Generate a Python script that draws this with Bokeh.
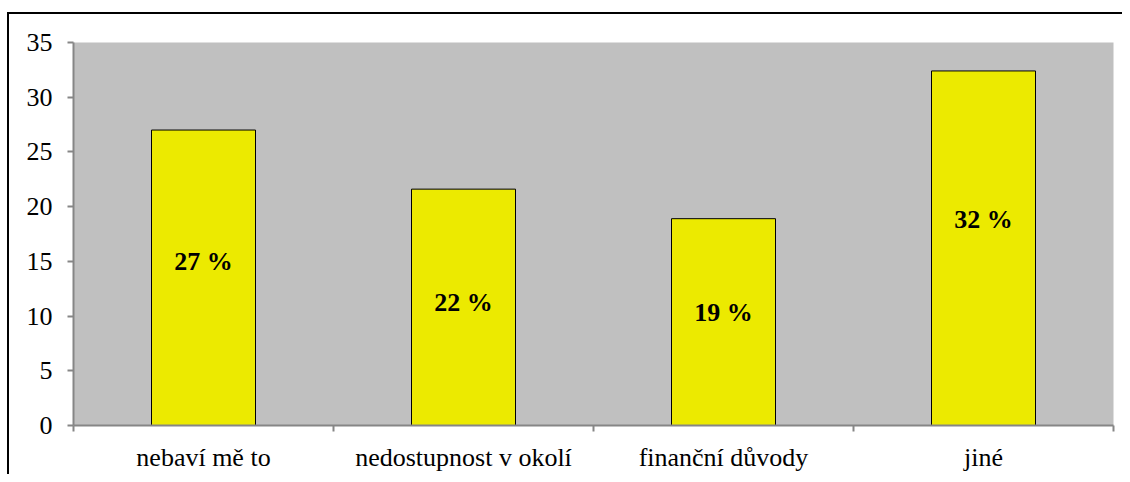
from bokeh.plotting import figure
from bokeh.models import ColumnDataSource, FixedTicker, Range1d, LinearAxis
from bokeh.embed import file_html
from bokeh.resources import INLINE
from bokeh.core.properties import value

# ---- data ----
categories = ["nebaví mě to", "nedostupnost v okolí", "finanční důvody", "jiné"]
shares = [27.0, 21.6, 18.9, 32.4]
label_y = [15.0, 11.2, 10.3, 18.8]   # where the percentage labels sit (data units)
y_ticks = [0, 5, 10, 15, 20, 25, 30, 35]

x_centers = [i + 0.5 for i in range(len(categories))]
labels = [f"{round(v)} %" for v in shares]

src = ColumnDataSource(dict(x=x_centers, top=shares, ly=label_y, lab=labels))

FONT = "Liberation Serif"
GRID = "#868686"

p = figure(width=1122, height=474, output_backend="svg", toolbar_location=None,
           x_range=Range1d(0, len(categories)), y_range=Range1d(0, 35),
           x_axis_type=None, y_axis_type=None,
           min_border_left=73, min_border_top=42, min_border_right=9, min_border_bottom=48)

p.background_fill_color = "#C0C0C0"
p.border_fill_color = None
p.outline_line_color = None

# outer chart border (only its left/top edges fall inside the picture), drawn as page CSS
p.styles = {
    "background": ("linear-gradient(#000, #000) 7px 12px / 2px 100% no-repeat, "
                   "linear-gradient(#000, #000) 7px 12px / 100% 2px no-repeat, #ffffff"),
}

# y axis
yax = LinearAxis(ticker=FixedTicker(ticks=y_ticks))
yax.axis_line_color = GRID
yax.axis_line_width = 2
yax.major_tick_line_color = GRID
yax.major_tick_line_width = 2
yax.major_tick_out = 6
yax.major_tick_in = 0
yax.minor_tick_line_color = None
yax.major_label_text_font = FONT
yax.major_label_text_font_size = "26px"
yax.major_label_text_color = "black"
yax.major_label_standoff = 15
p.add_layout(yax, "left")

# x axis: labels at centers, ticks at category boundaries
xax = LinearAxis(ticker=FixedTicker(ticks=x_centers,
                                    minor_ticks=list(range(len(categories) + 1))))
xax.major_label_overrides = {c: n for c, n in zip(x_centers, categories)}
xax.axis_line_color = GRID
xax.axis_line_width = 2
xax.major_tick_line_color = None
xax.major_tick_out = 6
xax.minor_tick_line_color = GRID
xax.minor_tick_line_width = 2
xax.minor_tick_out = 6
xax.minor_tick_in = 0
xax.major_label_text_font = FONT
xax.major_label_text_font_size = "26px"
xax.major_label_text_color = "black"
xax.major_label_standoff = 11
p.add_layout(xax, "below")

p.ygrid.ticker = FixedTicker(ticks=y_ticks)
p.ygrid.grid_line_color = GRID
p.ygrid.grid_line_width = 2
p.xgrid.grid_line_color = None

p.vbar(x="x", top="top", bottom=0, width=0.4, source=src,
       fill_color="#ECEA00", line_color="black", line_width=1)

p.text(x="x", y="ly", text="lab", source=src, text_font=value(FONT),
       text_font_size="26px", text_font_style="bold", text_color="black",
       text_align="center", text_baseline="middle")

open("out.html", "w").write(file_html(p, INLINE))
